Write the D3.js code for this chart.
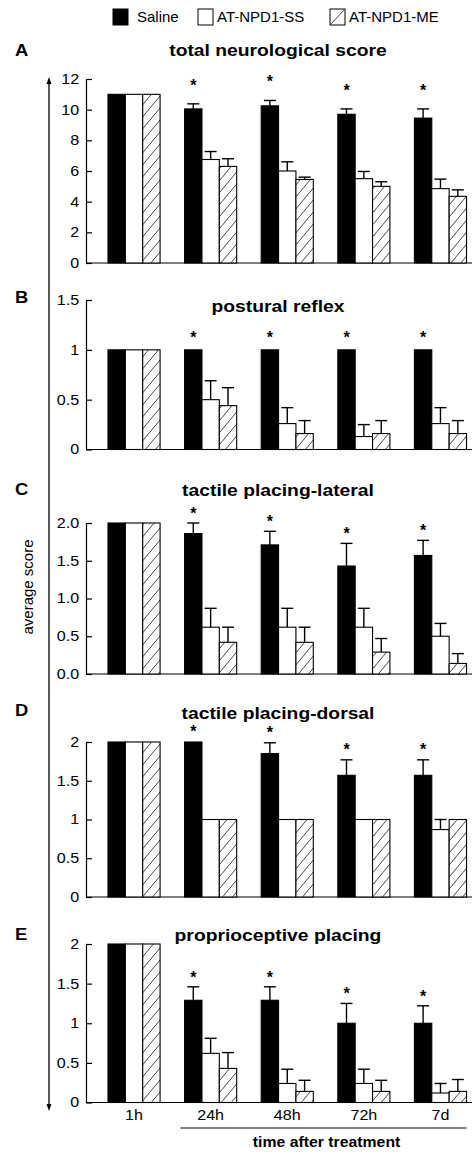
<!DOCTYPE html>
<html>
<head>
<meta charset="utf-8">
<script src="https://cdn.jsdelivr.net/npm/d3@7"></script>
<style>
  body { margin: 0; background: #fff; }
  text { font-family: "Liberation Sans", Arial, sans-serif; fill: #000; }
</style>
</head>
<body>
<svg id="chart"></svg>
<script>
// categories
const times = ["1h", "24h", "48h", "72h", "7d"];
const groups = ["Saline", "AT-NPD1-SS", "AT-NPD1-ME"];
const stars = ["", "*", "*", "*", "*"];   // significance, saline bars

// A - total neurological score
const totalSaline = [11, 10.05, 10.25, 9.7, 9.45];
const totalSalineErr = [0, 0.33, 0.35, 0.35, 0.6];
const totalSS = [11, 6.75, 6.0, 5.5, 4.85];
const totalSSErr = [0, 0.52, 0.6, 0.47, 0.62];
const totalME = [11, 6.3, 5.45, 5.0, 4.35];
const totalMEErr = [0, 0.5, 0.15, 0.3, 0.42];
const totalTicks = [0, 2, 4, 6, 8, 10, 12];

// B - postural reflex
const posturalSaline = [1, 1, 1, 1, 1];
const posturalSalineErr = [0, 0, 0, 0, 0];
const posturalSS = [1, 0.5, 0.26, 0.13, 0.26];
const posturalSSErr = [0, 0.19, 0.16, 0.12, 0.16];
const posturalME = [1, 0.44, 0.16, 0.16, 0.16];
const posturalMEErr = [0, 0.18, 0.13, 0.13, 0.13];
const posturalTicks = [0, 0.5, 1, 1.5];

// C - tactile placing-lateral
const lateralSaline = [2, 1.86, 1.71, 1.43, 1.57];
const lateralSalineErr = [0, 0.14, 0.18, 0.3, 0.2];
const lateralSS = [2, 0.62, 0.62, 0.62, 0.5];
const lateralSSErr = [0, 0.25, 0.25, 0.25, 0.17];
const lateralME = [2, 0.42, 0.42, 0.29, 0.14];
const lateralMEErr = [0, 0.2, 0.2, 0.18, 0.13];
const lateralTicks = [0, 0.5, 1, 1.5, 2];

// D - tactile placing-dorsal
const dorsalSaline = [2, 2, 1.85, 1.57, 1.57];
const dorsalSalineErr = [0, 0, 0.14, 0.2, 0.2];
const dorsalSS = [2, 1, 1, 1, 0.87];
const dorsalSSErr = [0, 0, 0, 0, 0.13];
const dorsalME = [2, 1, 1, 1, 1];
const dorsalMEErr = [0, 0, 0, 0, 0];
const dorsalTicks = [0, 0.5, 1, 1.5, 2];

// E - proprioceptive placing
const proprioSaline = [2, 1.29, 1.29, 1.0, 1.0];
const proprioSalineErr = [0, 0.17, 0.17, 0.25, 0.22];
const proprioSS = [2, 0.62, 0.24, 0.24, 0.12];
const proprioSSErr = [0, 0.19, 0.18, 0.18, 0.12];
const proprioME = [2, 0.43, 0.14, 0.14, 0.14];
const proprioMEErr = [0, 0.2, 0.14, 0.14, 0.15];
const proprioTicks = [0, 0.5, 1, 1.5, 2];

const panels = [
  {letter: "A", title: "total neurological score", vals: [totalSaline, totalSS, totalME],
   errs: [totalSalineErr, totalSSErr, totalMEErr], ticks: totalTicks, fmt: d3.format("d")},
  {letter: "B", title: "postural reflex", vals: [posturalSaline, posturalSS, posturalME],
   errs: [posturalSalineErr, posturalSSErr, posturalMEErr], ticks: posturalTicks, fmt: d => String(d)},
  {letter: "C", title: "tactile placing-lateral", vals: [lateralSaline, lateralSS, lateralME],
   errs: [lateralSalineErr, lateralSSErr, lateralMEErr], ticks: lateralTicks, fmt: d3.format(".1f")},
  {letter: "D", title: "tactile placing-dorsal", vals: [dorsalSaline, dorsalSS, dorsalME],
   errs: [dorsalSalineErr, dorsalSSErr, dorsalMEErr], ticks: dorsalTicks, fmt: d => String(d)},
  {letter: "E", title: "proprioceptive placing", vals: [proprioSaline, proprioSS, proprioME],
   errs: [proprioSalineErr, proprioSSErr, proprioMEErr], ticks: proprioTicks, fmt: d => String(d)}
];

// layout of each panel (pixel positions)
const layout = [
  {base: 263, top: 79, titleY: 50, letterY: 50, starGap: 22},
  {base: 449.5, top: 300, titleY: 306, letterY: 297, starGap: 16},
  {base: 674, top: 523, titleY: 490, letterY: 489, starGap: 13},
  {base: 897, top: 742, titleY: 713, letterY: 710, starGap: 14},
  {base: 1102.5, top: 944, titleY: 935, letterY: 934, starGap: 13}
];

const width = 472, height = 1153;
const axisX = 86;
const sx = 1.15; // horizontal stretch of the text in the original figure

const svg = d3.select("#chart").attr("width", width).attr("height", height);
svg.append("rect").attr("width", width).attr("height", height).attr("fill", "#fff");

const defs = svg.append("defs");
const pat = defs.append("pattern").attr("id", "hatch")
  .attr("patternUnits", "userSpaceOnUse").attr("width", 10).attr("height", 12);
pat.append("rect").attr("width", 10).attr("height", 12).attr("fill", "#fff");
pat.append("path").attr("d", "M0,12 L10,0 M-2,2.4 L2,-2.4 M8,14.4 L12,9.6")
  .attr("stroke", "#333").attr("stroke-width", 0.9);

const fills = ["#000", "#fff", "url(#hatch)"];

const x = d3.scaleBand().domain(times).range([axisX, 488.5]).paddingInner(0.32).paddingOuter(0.287);
const xs = d3.scaleBand().domain(groups).range([0, x.bandwidth()]);

function label(sel, px, py, str, size, weight, anchor, stretch) {
  sel.append("g").attr("transform", `translate(${px},${py}) scale(${stretch},1)`)
    .append("text")
    .attr("text-anchor", anchor)
    .attr("dy", "0.35em")
    .style("font-size", size + "px")
    .style("font-weight", weight)
    .text(str);
}

// legend
const legX = [113, 198, 330];
const legend = svg.append("g");
groups.forEach((gname, i) => {
  legend.append("rect").attr("x", legX[i]).attr("y", 9).attr("width", 15).attr("height", 16)
    .attr("fill", i === 0 ? "#000" : "#fff").attr("stroke", "#000").attr("stroke-width", 1);
  if (i === 2) {
    legend.append("line").attr("x1", legX[i]).attr("y1", 25).attr("x2", legX[i] + 15).attr("y2", 9)
      .attr("stroke", "#333").attr("stroke-width", 0.9);
  }
  legend.append("text").attr("x", legX[i] + (i === 0 ? 24 : 19)).attr("y", 17).attr("dy", "0.35em")
    .style("font-size", "15px").text(gname);
});

panels.forEach((p, pi) => {
  const L = layout[pi];
  const ymax = d3.max(p.ticks);
  const y = d3.scaleLinear().domain([0, ymax]).range([L.base, L.top]);
  const g = svg.append("g");

  label(g, 15, L.letterY, p.letter, 16, "bold", "start", sx);
  label(g, 278, L.titleY, p.title, 16.5, "bold", "middle", 1.17);

  // y axis
  const ya = g.append("g").attr("transform", `translate(${axisX},0)`)
    .call(d3.axisLeft(y).tickValues(p.ticks).tickFormat(p.fmt)
      .tickSizeInner(-6).tickSizeOuter(0).tickPadding(6));
  ya.select(".domain").attr("stroke-width", 1.2);
  ya.selectAll(".tick line").attr("stroke-width", 1.2);
  ya.selectAll(".tick text").style("font-size", "14px")
    .attr("transform", `scale(${sx},1)`);

  // baseline
  g.append("line").attr("x1", axisX).attr("x2", width).attr("y1", L.base).attr("y2", L.base)
    .attr("stroke", "#000").attr("stroke-width", 1.2);

  groups.forEach((gname, si) => {
    const bw = xs.bandwidth();
    const recs = times.map((t, ti) => ({t, v: p.vals[si][ti], e: p.errs[si][ti], star: stars[ti]}));

    // error bars (upper only)
    const eb = g.selectAll(null).data(recs.filter(d => d.e > 0)).enter().append("g");
    eb.append("line")
      .attr("x1", d => x(d.t) + xs(gname) + bw / 2).attr("x2", d => x(d.t) + xs(gname) + bw / 2)
      .attr("y1", d => y(d.v)).attr("y2", d => y(d.v + d.e))
      .attr("stroke", "#000").attr("stroke-width", 1.4);
    eb.append("line")
      .attr("x1", d => x(d.t) + xs(gname) + bw / 2 - 6).attr("x2", d => x(d.t) + xs(gname) + bw / 2 + 6)
      .attr("y1", d => y(d.v + d.e)).attr("y2", d => y(d.v + d.e))
      .attr("stroke", "#000").attr("stroke-width", 1.4);

    g.selectAll(null).data(recs).enter().append("rect")
      .attr("x", d => x(d.t) + xs(gname))
      .attr("y", d => y(d.v))
      .attr("width", bw)
      .attr("height", d => L.base - y(d.v))
      .attr("fill", fills[si])
      .attr("stroke", "#000").attr("stroke-width", 1.1);

    if (si === 0) {
      g.selectAll(null).data(recs.filter(d => d.star)).enter().append("text")
        .attr("x", d => x(d.t) + xs(gname) + bw / 2)
        .attr("y", d => y(d.v + d.e) - L.starGap + 9)
        .attr("text-anchor", "middle")
        .style("font-size", "16px")
        .style("font-weight", "bold")
        .text(d => d.star);
    }
  });

  if (pi === panels.length - 1) {
    const xa = g.append("g").attr("transform", `translate(0,${L.base})`)
      .call(d3.axisBottom(x).tickSize(0).tickPadding(8));
    xa.select(".domain").remove();
    xa.selectAll(".tick text").style("font-size", "14px").attr("transform", `scale(${sx},1)`);

    const lx1 = x("24h") - 4, lx2 = x("7d") + x.bandwidth();
    g.append("line").attr("x1", lx1).attr("x2", lx2).attr("y1", 1128).attr("y2", 1128)
      .attr("stroke", "#000").attr("stroke-width", 1.2);
    label(g, (lx1 + lx2) / 2 + 3, 1142, "time after treatment", 14, "bold", "middle", 1.13);
  }
});

// long double-headed arrow with y label
const arrowX = 49, arrowTop = 77, arrowBot = 1111;
svg.append("line").attr("x1", arrowX).attr("x2", arrowX).attr("y1", arrowTop + 4).attr("y2", arrowBot - 4)
  .attr("stroke", "#000").attr("stroke-width", 1.3);
svg.append("path").attr("d", `M${arrowX},${arrowTop} l-2.5,7 h5 z`).attr("fill", "#000");
svg.append("path").attr("d", `M${arrowX},${arrowBot} l-2.5,-7 h5 z`).attr("fill", "#000");

svg.append("text").attr("transform", "translate(28,587) rotate(-90)")
  .attr("text-anchor", "middle").attr("dy", "0.35em")
  .style("font-size", "15px").text("average score");
</script>
</body>
</html>
